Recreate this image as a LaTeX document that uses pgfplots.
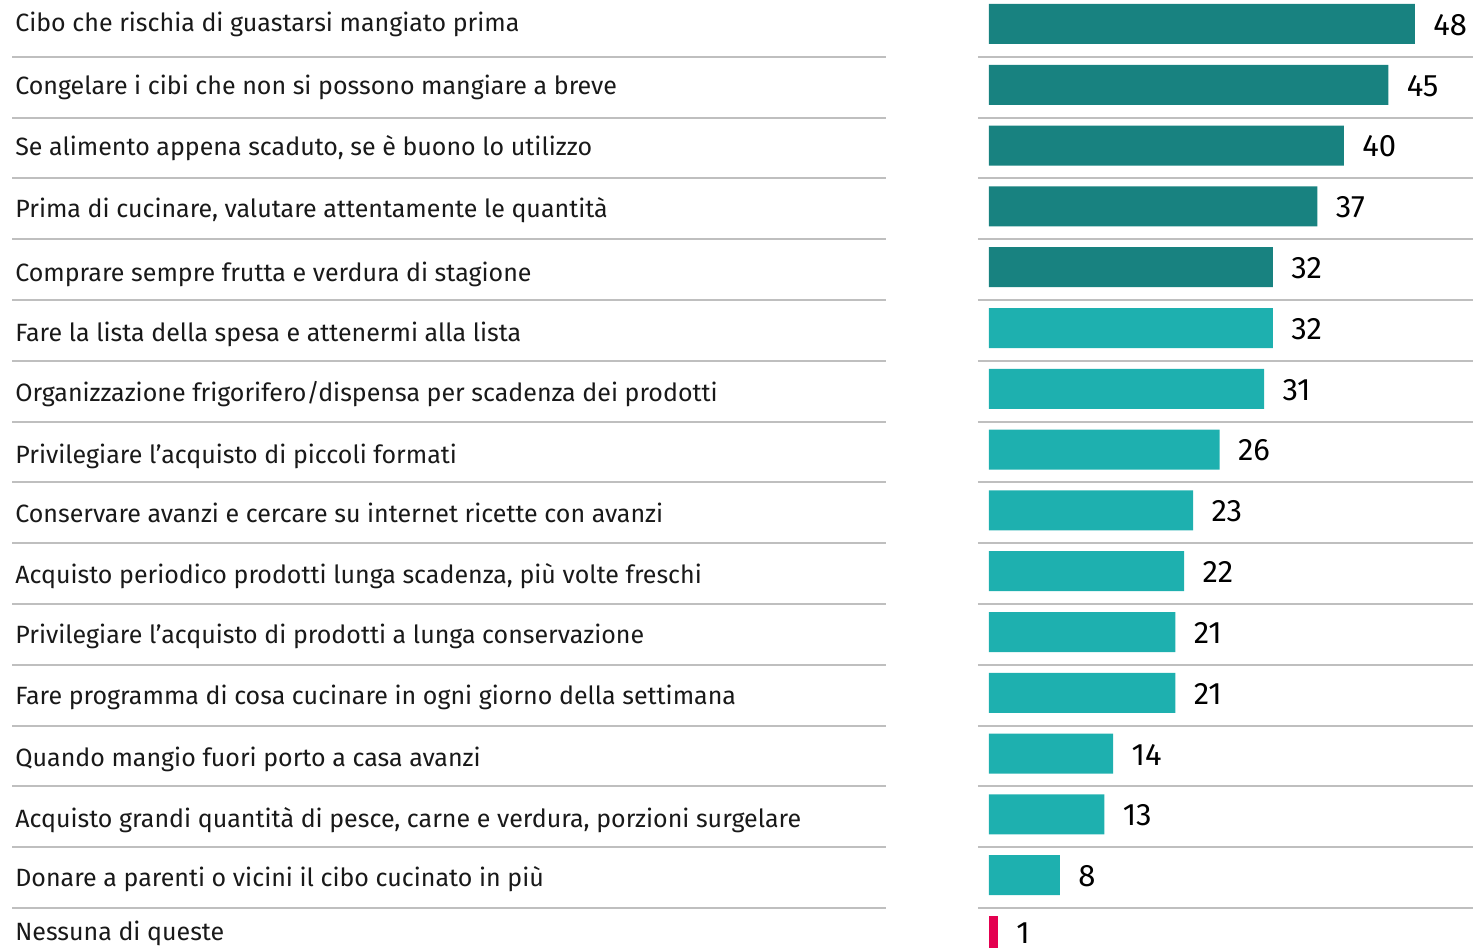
\documentclass[border=0pt]{standalone}
\usepackage{fontspec}
\setmainfont{Fira Sans}
\usepackage{pgfplots}
\pgfplotsset{compat=1.18}
\definecolor{dteal}{RGB}{24,130,128}
\definecolor{lteal}{RGB}{30,176,175}
\definecolor{pinkc}{RGB}{228,0,80}
\definecolor{sepc}{RGB}{191,191,191}
\definecolor{labc}{RGB}{25,25,25}
\begin{document}
\begin{tikzpicture}
\begin{axis}[
  scale only axis, width=242pt, height=474pt,
  xmin=0, xmax=54.535, ymin=-0.3947, ymax=15.197, y dir=reverse,
  hide axis, clip mode=individual,
  xbar, bar width=20pt, bar shift=0pt,
  nodes near coords,
  nodes near coords style={anchor=west, inner sep=0pt, xshift=9pt, yshift=-0.5pt, font=\fontsize{15.5}{16}\selectfont, text=black},
  every node near coord/.append style={/pgf/number format/assume math mode=true},
]
\coordinate (bl) at (axis cs:-111.437,15.197);
\coordinate (tr) at (axis cs:54.535,-0.3947);
\pgfplotsinvokeforeach{0.54,1.54,2.54,3.54,4.54,5.54,6.54,7.54,8.54,9.54,10.54,11.54,12.54,13.54,14.54}{
  \draw[sepc, line width=1pt] (axis cs:-110.08,#1) -- (axis cs:-11.61,#1);
  \draw[sepc, line width=1pt] (axis cs:-1.24,#1) -- (axis cs:54.535,#1);
}
\addplot[draw=none, fill=dteal] coordinates {(48,0) (45,1) (40,2) (37,3) (32,4)};
\addplot[draw=none, fill=lteal] coordinates {(32,5) (31,6) (26,7) (23,8) (22,9) (21,10) (21,11) (14,12) (13,13) (8,14)};
\addplot[draw=none, fill=pinkc, every node near coord/.append style={yshift=2pt}] coordinates {(1,15)};
\tikzset{lab/.style={anchor=base west, inner sep=0pt, text=labc, font=\fontsize{12.5}{13}\selectfont}}
\node[lab] at (axis cs:-109.75,0.123) {Cibo che rischia di guastarsi mangiato prima};
\node[lab] at (axis cs:-109.75,1.160) {Congelare i cibi che non si possono mangiare a breve};
\node[lab] at (axis cs:-109.75,2.163) {Se alimento appena scaduto, se è buono lo utilizzo};
\node[lab] at (axis cs:-109.75,3.179) {Prima di cucinare, valutare attentamente le quantità};
\node[lab] at (axis cs:-109.75,4.238) {Comprare sempre frutta e verdura di stagione};
\node[lab] at (axis cs:-109.75,5.222) {Fare la lista della spesa e attenermi alla lista};
\node[lab] at (axis cs:-109.75,6.212) {Organizzazione frigorifero/dispensa per scadenza dei prodotti};
\node[lab] at (axis cs:-109.75,7.225) {Privilegiare l’acquisto di piccoli formati};
\node[lab] at (axis cs:-109.75,8.199) {Conservare avanzi e cercare su internet ricette con avanzi};
\node[lab] at (axis cs:-109.75,9.202) {Acquisto periodico prodotti lunga scadenza, più volte freschi};
\node[lab] at (axis cs:-109.75,10.197) {Privilegiare l’acquisto di prodotti a lunga conservazione};
\node[lab] at (axis cs:-109.75,11.184) {Fare programma di cosa cucinare in ogni giorno della settimana};
\node[lab] at (axis cs:-109.75,12.212) {Quando mangio fuori porto a casa avanzi};
\node[lab] at (axis cs:-109.75,13.215) {Acquisto grandi quantità di pesce, carne e verdura, porzioni surgelare};
\node[lab] at (axis cs:-109.75,14.178) {Donare a parenti o vicini il cibo cucinato in più};
\node[lab] at (axis cs:-109.75,15.078) {Nessuna di queste};
\end{axis}
\pgfresetboundingbox
\path[use as bounding box] (bl) rectangle (tr);
\end{tikzpicture}
\end{document}
